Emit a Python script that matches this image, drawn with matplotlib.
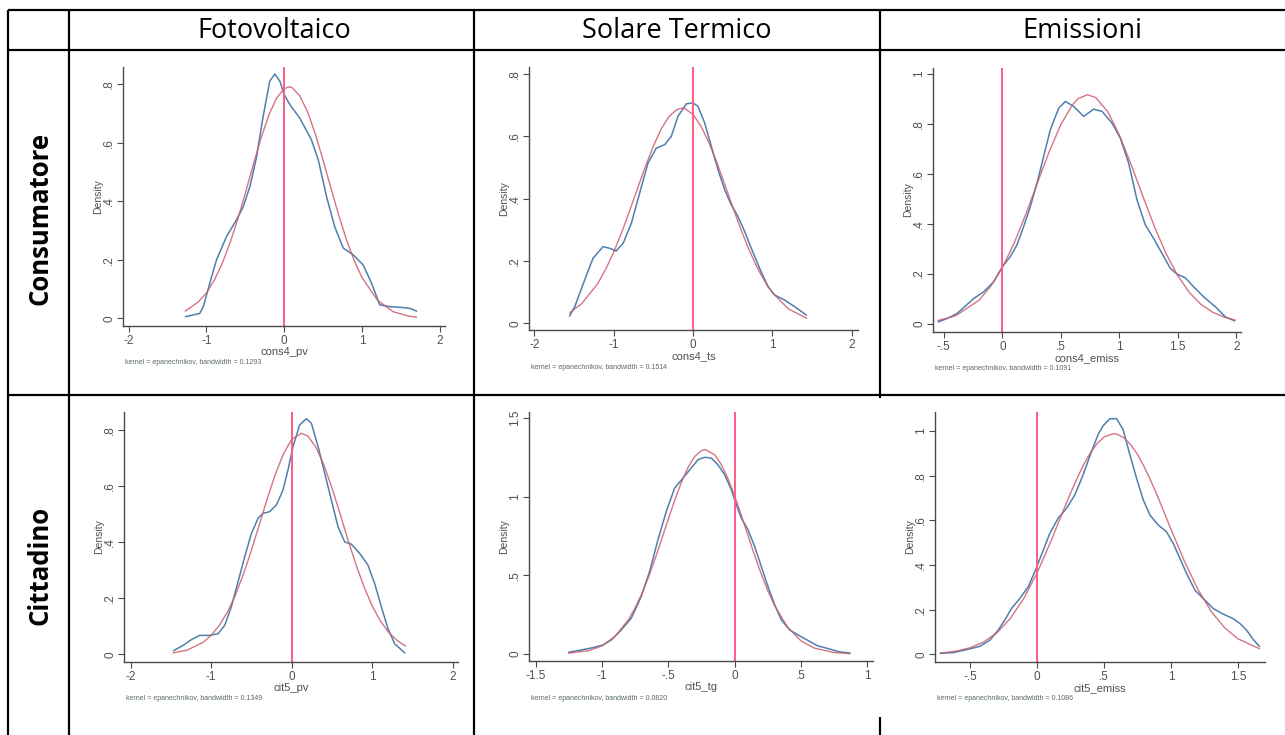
import matplotlib
matplotlib.use("Agg")
import matplotlib.pyplot as plt

W, H = 1285, 735

columns = ["Fotovoltaico", "Solare Termico", "Emissioni"]
rows = ["Consumatore", "Cittadino"]

# --- cons4_pv ---
pv4_kx = [-1.266, -1.086, -1.04, -0.957, -0.87, -0.74, -0.614, -0.528, -0.44, -0.356, -0.27, -0.185,
          -0.12, -0.056, 0.0, 0.073, 0.2, 0.35, 0.44, 0.545, 0.65, 0.76, 0.888, 1.017, 1.124, 1.23,
          1.36, 1.49, 1.62, 1.70]
pv4_ky = [0.006, 0.017, 0.04, 0.12, 0.2, 0.28, 0.336, 0.38, 0.45, 0.55, 0.69, 0.81,
          0.834, 0.81, 0.764, 0.73, 0.684, 0.61, 0.54, 0.416, 0.313, 0.24, 0.217, 0.182, 0.12, 0.046,
          0.04, 0.038, 0.034, 0.025]
pv4_nx = [-1.27, -1.1, -1.0, -0.9, -0.8, -0.7, -0.6, -0.5, -0.4, -0.3, -0.2, -0.1, 0.0, 0.06, 0.1,
          0.2, 0.3, 0.4, 0.5, 0.6, 0.7, 0.8, 0.9, 1.0, 1.2, 1.4, 1.6, 1.7]
pv4_ny = [0.025, 0.057, 0.087, 0.130, 0.185, 0.255, 0.336, 0.427, 0.522, 0.613, 0.692, 0.751,
          0.784, 0.790, 0.788, 0.760, 0.706, 0.630, 0.541, 0.446, 0.354, 0.270, 0.198, 0.140,
          0.062, 0.023, 0.008, 0.004]

# --- cons4_ts ---
ts4_kx = [-1.555, -1.49, -1.366, -1.26, -1.134, -1.05, -0.97, -0.88, -0.777, -0.672, -0.567, -0.462,
          -0.357, -0.273, -0.189, -0.084, 0.0, 0.063, 0.147, 0.231, 0.315, 0.40, 0.483, 0.567, 0.651,
          0.735, 0.84, 0.945, 1.03, 1.155, 1.28, 1.428]
ts4_ky = [0.024, 0.054, 0.139, 0.209, 0.246, 0.241, 0.232, 0.257, 0.321, 0.418, 0.514, 0.562,
          0.573, 0.6, 0.664, 0.704, 0.707, 0.696, 0.643, 0.568, 0.493, 0.428, 0.38, 0.343, 0.295,
          0.241, 0.177, 0.118, 0.091, 0.075, 0.054, 0.027]
ts4_nx = [-1.55, -1.4, -1.2, -1.1, -1.0, -0.9, -0.8, -0.7, -0.6, -0.5, -0.4, -0.3, -0.2, -0.14,
          -0.1, 0.0, 0.1, 0.2, 0.3, 0.4, 0.5, 0.6, 0.7, 0.8, 0.9, 1.0, 1.2, 1.43]
ts4_ny = [0.035, 0.064, 0.128, 0.174, 0.228, 0.291, 0.360, 0.432, 0.503, 0.568, 0.624, 0.664,
          0.686, 0.690, 0.688, 0.670, 0.633, 0.580, 0.517, 0.446, 0.374, 0.304, 0.240, 0.184,
          0.137, 0.099, 0.047, 0.017]

# --- cons4_emiss ---
em4_kx = [-0.544, -0.473, -0.388, -0.316, -0.245, -0.16, -0.074, 0.0, 0.068, 0.125, 0.182, 0.239,
          0.296, 0.353, 0.41, 0.482, 0.539, 0.61, 0.696, 0.781, 0.853, 0.938, 1.009, 1.08, 1.152,
          1.223, 1.294, 1.365, 1.437, 1.494, 1.565, 1.636, 1.722, 1.822, 1.907, 1.984]
em4_ky = [0.007, 0.02, 0.04, 0.07, 0.1, 0.127, 0.167, 0.228, 0.268, 0.315, 0.388, 0.468,
          0.562, 0.669, 0.776, 0.863, 0.89, 0.87, 0.83, 0.859, 0.85, 0.803, 0.743, 0.643, 0.495,
          0.395, 0.341, 0.281, 0.221, 0.198, 0.183, 0.147, 0.107, 0.067, 0.027, 0.011]
em4_nx = [-0.55, -0.4, -0.2, -0.1, 0.0, 0.1, 0.2, 0.3, 0.4, 0.5, 0.6, 0.65, 0.73, 0.8, 0.9, 1.0,
          1.1, 1.2, 1.3, 1.4, 1.5, 1.6, 1.7, 1.8, 1.9, 1.99]
em4_ny = [0.012, 0.031, 0.093, 0.149, 0.224, 0.321, 0.437, 0.563, 0.688, 0.797, 0.877, 0.902,
          0.917, 0.905, 0.850, 0.756, 0.639, 0.512, 0.389, 0.280, 0.192, 0.124, 0.076, 0.045,
          0.025, 0.014]

# --- cit5_pv ---
pv5_kx = [-1.464, -1.349, -1.245, -1.142, -1.018, -0.914, -0.831, -0.749, -0.666, -0.583, -0.50,
          -0.418, -0.356, -0.273, -0.19, -0.108, -0.046, 0.017, 0.099, 0.182, 0.244, 0.327, 0.41,
          0.492, 0.575, 0.658, 0.74, 0.844, 0.947, 1.03, 1.113, 1.195, 1.278, 1.402]
pv5_ky = [0.014, 0.032, 0.053, 0.068, 0.068, 0.074, 0.104, 0.17, 0.259, 0.349, 0.432,
          0.486, 0.504, 0.51, 0.534, 0.587, 0.659, 0.743, 0.82, 0.842, 0.826, 0.743, 0.647,
          0.552, 0.456, 0.402, 0.394, 0.361, 0.319, 0.253, 0.17, 0.092, 0.038, 0.006]
pv5_nx = [-1.47, -1.3, -1.1, -1.0, -0.9, -0.8, -0.7, -0.6, -0.5, -0.4, -0.3, -0.2, -0.1, 0.0,
          0.12, 0.2, 0.3, 0.4, 0.5, 0.6, 0.7, 0.8, 0.9, 1.0, 1.1, 1.2, 1.3, 1.41]
pv5_ny = [0.006, 0.015, 0.043, 0.068, 0.103, 0.150, 0.211, 0.286, 0.372, 0.465, 0.559, 0.646,
          0.718, 0.768, 0.790, 0.780, 0.741, 0.677, 0.595, 0.503, 0.408, 0.319, 0.240, 0.173,
          0.120, 0.080, 0.052, 0.030]

# --- cit5_tg ---
tg5_kx = [-1.249, -1.156, -1.068, -0.992, -0.93, -0.854, -0.779, -0.704, -0.641, -0.578, -0.515,
          -0.452, -0.389, -0.327, -0.276, -0.226, -0.176, -0.126, -0.075, -0.025, 0.013, 0.05,
          0.101, 0.151, 0.201, 0.251, 0.302, 0.352, 0.415, 0.477, 0.553, 0.628, 0.704, 0.791, 0.867]
tg5_ky = [0.011, 0.025, 0.04, 0.057, 0.089, 0.153, 0.227, 0.365, 0.524, 0.726, 0.906,
          1.055, 1.118, 1.182, 1.235, 1.25, 1.245, 1.203, 1.139, 1.044, 0.948, 0.864,
          0.789, 0.683, 0.556, 0.429, 0.312, 0.216, 0.153, 0.121, 0.085, 0.051, 0.034, 0.013, 0.006]
tg5_nx = [-1.25, -1.1, -1.0, -0.9, -0.8, -0.75, -0.7, -0.65, -0.6, -0.55, -0.5, -0.45, -0.4,
          -0.35, -0.3, -0.25, -0.22, -0.15, -0.1, -0.05, 0.0, 0.05, 0.1, 0.15, 0.2, 0.25, 0.3,
          0.4, 0.5, 0.6, 0.75, 0.87]
tg5_ny = [0.005, 0.021, 0.051, 0.112, 0.218, 0.293, 0.382, 0.487, 0.604, 0.729, 0.857, 0.981,
          1.094, 1.188, 1.256, 1.293, 1.299, 1.266, 1.203, 1.114, 1.004, 0.882, 0.755, 0.628,
          0.510, 0.402, 0.309, 0.169, 0.083, 0.037, 0.009, 0.002]

# --- cit5_emiss ---
em5_kx = [-0.723, -0.628, -0.529, -0.429, -0.354, -0.292, -0.242, -0.192, -0.13, -0.067, -0.017,
          0.032, 0.095, 0.157, 0.22, 0.282, 0.344, 0.407, 0.456, 0.494, 0.544, 0.594, 0.643, 0.693,
          0.743, 0.793, 0.843, 0.905, 0.967, 1.017, 1.067, 1.117, 1.18, 1.242, 1.317, 1.392, 1.466,
          1.516, 1.566, 1.616, 1.661]
em5_ky = [0.005, 0.008, 0.021, 0.036, 0.063, 0.108, 0.153, 0.205, 0.25, 0.302, 0.37,
          0.445, 0.542, 0.609, 0.654, 0.714, 0.804, 0.909, 0.984, 1.024, 1.055, 1.055, 1.006, 0.894,
          0.789, 0.692, 0.624, 0.579, 0.549, 0.497, 0.43, 0.362, 0.287, 0.25, 0.205, 0.18, 0.16,
          0.138, 0.108, 0.066, 0.036]
em5_nx = [-0.72, -0.6, -0.5, -0.4, -0.3, -0.2, -0.1, 0.0, 0.1, 0.2, 0.25, 0.3, 0.35, 0.4, 0.45,
          0.5, 0.57, 0.6, 0.65, 0.7, 0.75, 0.8, 0.85, 0.9, 1.0, 1.1, 1.2, 1.3, 1.4, 1.5, 1.66]
em5_ny = [0.006, 0.015, 0.030, 0.055, 0.097, 0.161, 0.250, 0.365, 0.502, 0.650, 0.722, 0.790,
          0.852, 0.904, 0.945, 0.973, 0.988, 0.985, 0.969, 0.938, 0.895, 0.840, 0.777, 0.708,
          0.561, 0.418, 0.293, 0.193, 0.120, 0.070, 0.026]

var_names = ["cons4_pv", "cons4_ts", "cons4_emiss", "cit5_pv", "cit5_tg", "cit5_emiss"]
bandwidths = ["0.1293", "0.1514", "0.1091", "0.1349", "0.0820", "0.1086"]

xt_2 = ([-2, -1, 0, 1, 2], ["-2", "-1", "0", "1", "2"])
xt_em4 = ([-0.5, 0, 0.5, 1, 1.5, 2], ["-.5", "0", ".5", "1", "1.5", "2"])
xt_tg = ([-1.5, -1, -0.5, 0, 0.5, 1], ["-1.5", "-1", "-.5", "0", ".5", "1"])
xt_em5 = ([-0.5, 0, 0.5, 1, 1.5], ["-.5", "0", ".5", "1", "1.5"])
yt_08 = ([0, 0.2, 0.4, 0.6, 0.8], ["0", ".2", ".4", ".6", ".8"])
yt_1 = ([0, 0.2, 0.4, 0.6, 0.8, 1], ["0", ".2", ".4", ".6", ".8", "1"])
yt_15 = ([0, 0.5, 1, 1.5], ["0", ".5", "1", "1.5"])

# layout: (left, top, right, bottom) in pixels, xlim, ylim
panels = [
    ((123, 67, 445, 326), (-2.073, 2.069), (-0.026, 0.858), xt_2, yt_08, pv4_kx, pv4_ky, pv4_nx, pv4_ny),
    ((529, 67, 858, 330), (-2.067, 2.080), (-0.021, 0.822), xt_2, yt_08, ts4_kx, ts4_ky, ts4_nx, ts4_ny),
    ((933, 68, 1241, 332), (-0.593, 2.041), (-0.034, 1.024), xt_em4, yt_1, em4_kx, em4_ky, em4_nx, em4_ny),
    ((124, 412, 458, 662), (-2.081, 2.064), (-0.027, 0.866), xt_2, yt_08, pv5_kx, pv5_ky, pv5_nx, pv5_ny),
    ((529, 412, 873, 661), (-1.550, 1.043), (-0.045, 1.538), xt_tg, yt_15, tg5_kx, tg5_ky, tg5_nx, tg5_ny),
    ((935, 412, 1265, 662), (-0.763, 1.703), (-0.034, 1.085), xt_em5, yt_1, em5_kx, em5_ky, em5_nx, em5_ny),
]

plt.rcParams['font.family'] = ['Liberation Sans', 'DejaVu Sans']
fig = plt.figure(figsize=(W / 100, H / 100), dpi=100)

# table underneath, pixel coordinates
tab = fig.add_axes([0, 0, 1, 1], zorder=0)
tab.set_xlim(0, W)
tab.set_ylim(H, 0)
tab.axis('off')
lw = 1.6
for y in [10, 50, 395]:
    tab.plot([8, W], [y, y], color='black', lw=lw, solid_capstyle='butt')
for x in [8, 69, 474]:
    tab.plot([x, x], [10, H], color='black', lw=lw, solid_capstyle='butt')
tab.plot([880, 880], [10, 398], color='black', lw=lw, solid_capstyle='butt')
tab.plot([880, 880], [717, H], color='black', lw=lw, solid_capstyle='butt')

col_centers = [274, 677, 1082]
for name, cx in zip(columns, col_centers):
    tab.text(cx, 31, name, ha='center', va='center', fontsize=19.5, family='Open Sans')
for name, cy in zip(rows, [218, 565]):
    tab.text(40, cy, name, ha='center', va='center', rotation=90, fontsize=18.5,
             fontweight='bold', family='Open Sans')

blue = '#4e7fae'
red = '#cc5d6d'
pink = '#ff5c82'
axc = '#4a4a4a'

for i, (box, xl, yl, xt, yt, kx, ky, nx, ny) in enumerate(panels):
    l, t, r, b = box
    ax = fig.add_axes([l / W, 1 - b / H, (r - l) / W, (b - t) / H], zorder=1)
    ax.patch.set_alpha(0)
    ax.plot(kx, ky, color=blue, lw=1.1)
    ax.plot(nx, ny, color=red, lw=1.0, alpha=0.85)
    ax.axvline(0, color=pink, lw=1.4)
    ax.set_xlim(*xl)
    ax.set_ylim(*yl)
    ax.set_xticks(xt[0])
    ax.set_xticklabels(xt[1])
    ax.set_yticks(yt[0])
    ax.set_yticklabels(yt[1], rotation=90, va='center')
    for s in ['top', 'right']:
        ax.spines[s].set_visible(False)
    for s in ['left', 'bottom']:
        ax.spines[s].set_color(axc)
        ax.spines[s].set_linewidth(1.0)
    ax.tick_params(axis='both', length=4, width=0.8, color=axc, labelsize=8.5,
                   labelcolor='#505050')
    ax.tick_params(axis='x', pad=2.5)
    ax.tick_params(axis='y', pad=1.5)
    ax.set_xlabel(var_names[i], fontsize=8, color='#505050', labelpad=0)
    ax.set_ylabel('Density', fontsize=7.5, color='#505050', labelpad=0.5)
    ax.annotate('kernel = epanechnikov, bandwidth = ' + bandwidths[i],
                xy=(0, 0), xycoords='axes fraction', xytext=(2, -37),
                textcoords='offset pixels', fontsize=5, color='#5a6868', va='center')

fig.savefig('out.png', dpi=100)
